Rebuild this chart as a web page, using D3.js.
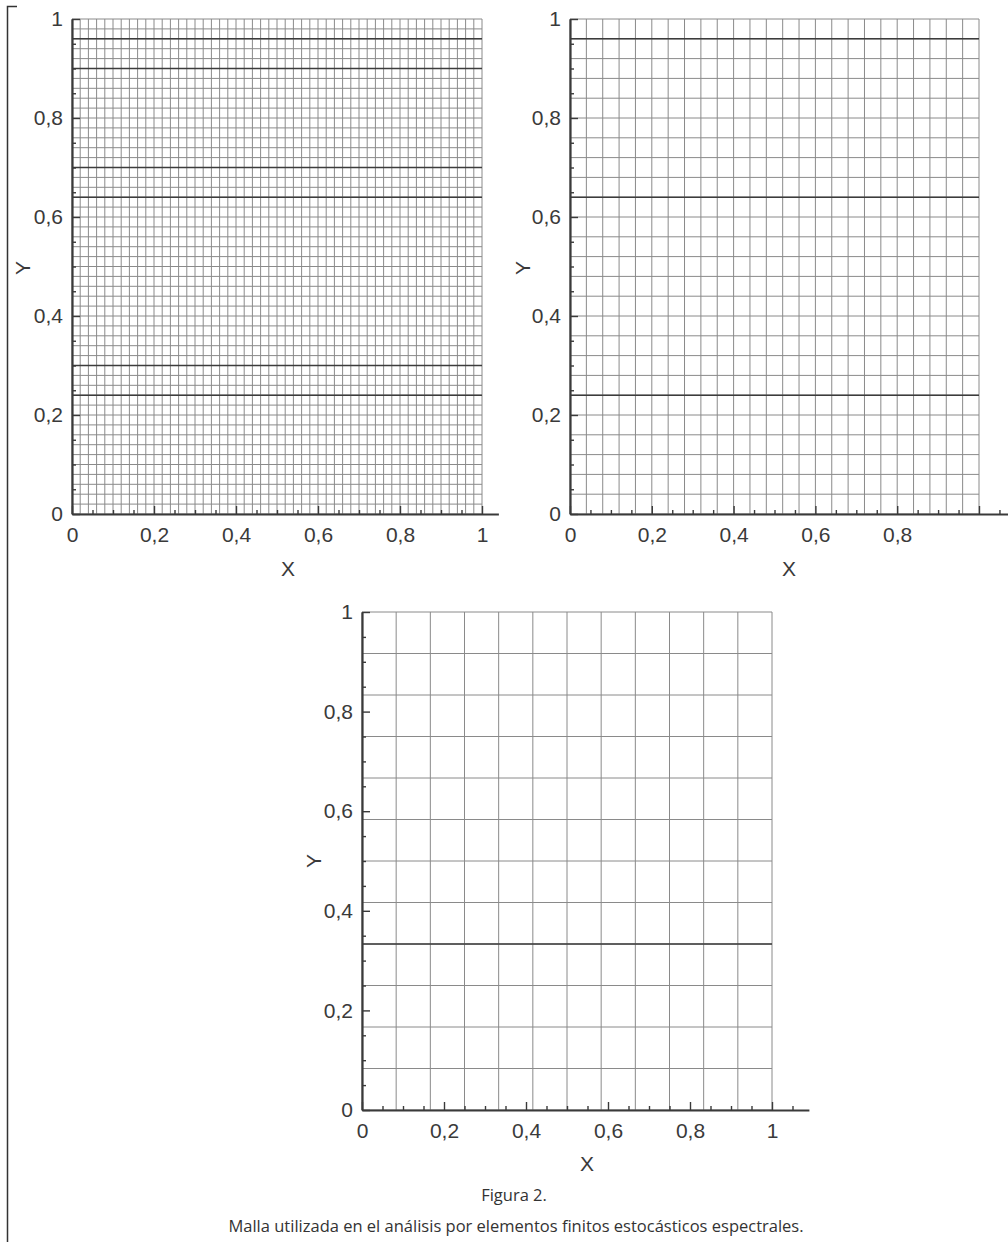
<!DOCTYPE html>
<html>
<head>
<meta charset="utf-8">
<script src="https://cdn.jsdelivr.net/npm/d3@7"></script>
<style>
  html, body { margin: 0; padding: 0; background: #fff; }
  svg { display: block; }
</style>
</head>
<body>
<div id="chart"></div>
<script>
// ---------- Data ----------
const panelNames = ["fina", "media", "gruesa"];
const meshDivisions = [50, 25, 12];               // elements per side
const heavyLinesY = [
  [0.96, 0.9, 0.7, 0.64, 0.3, 0.24],
  [0.96, 0.64, 0.24],
  [1 / 3],
];
const majorTicks = [0, 0.2, 0.4, 0.6, 0.8, 1];
const xLabelTicks = [
  [0, 0.2, 0.4, 0.6, 0.8, 1],
  [0, 0.2, 0.4, 0.6, 0.8],
  [0, 0.2, 0.4, 0.6, 0.8, 1],
];
const yLabelTicks = [0, 0.2, 0.4, 0.6, 0.8, 1];
const minorStep = 0.05;
const xAxisExtent = [1.04, 1.1, 1.09];             // x axis line runs past 1
const figureTitle = "Figura 2.";
const figureCaption = "Malla utilizada en el análisis por elementos finitos estocásticos espectrales.";

// ---------- Layout ----------
const W = 1008, H = 1242;
const boxes = [
  { x0: 72, x1: 482, yTop: 19, yBot: 514, xLab: [288, 568], yLab: [22, 268] },
  { x0: 570, x1: 979, yTop: 19, yBot: 514, xLab: [789, 568], yLab: [522, 268] },
  { x0: 362, x1: 772, yTop: 612, yBot: 1110, xLab: [587, 1163], yLab: [313, 861] },
];
const FONT = "'Liberation Sans', Arial, Helvetica, sans-serif";
const CAP_FONT = "'Open Sans', 'Noto Sans', sans-serif";
const INK = "#3a3a3a";
const fmt = d3.formatLocale({ decimal: ",", thousands: ".", grouping: [3], currency: ["", ""] }).format(".1~f");

const svg = d3.select("#chart").append("svg").attr("width", W).attr("height", H);

// left page bracket
svg.append("path")
  .attr("d", "M17,6.5H7.5V1242")
  .attr("fill", "none").attr("stroke", "#333").attr("stroke-width", 1.5);

function minorValues(ext) {
  return d3.range(0, Math.floor(ext / minorStep + 1e-6) + 1)
    .map((i) => +(i * minorStep).toFixed(2))
    .filter((v) => !majorTicks.some((m) => Math.abs(m - v) < 1e-6));
}

// ---------- Panels ----------
function renderMesh(i) {
  const b = boxes[i];
  const n = meshDivisions[i];
  const g = svg.append("g").attr("class", "panel-" + panelNames[i]);

  const x = d3.scaleLinear().domain([0, 1]).range([b.x0, b.x1]);
  const y = d3.scaleLinear().domain([0, 1]).range([b.yBot, b.yTop]);
  const nodes = d3.range(0, n + 1).map((k) => k / n);

  // mesh lines
  g.append("g").selectAll("line").data(nodes).enter().append("line")
    .attr("x1", (d) => x(d)).attr("x2", (d) => x(d))
    .attr("y1", y(0)).attr("y2", y(1))
    .attr("stroke", "#8a8a8a").attr("stroke-width", 1);
  g.append("g").selectAll("line").data(nodes).enter().append("line")
    .attr("x1", x(0)).attr("x2", x(1))
    .attr("y1", (d) => y(d)).attr("y2", (d) => y(d))
    .attr("stroke", "#8a8a8a").attr("stroke-width", 1);

  // subdomain boundaries
  g.append("g").selectAll("line").data(heavyLinesY[i]).enter().append("line")
    .attr("x1", x(0)).attr("x2", x(1))
    .attr("y1", (d) => y(d)).attr("y2", (d) => y(d))
    .attr("stroke", "#3c3c3c").attr("stroke-width", 1.6);

  // x axis
  const ext = xAxisExtent[i];
  const xa = x.copy().domain([0, ext]).range([x(0), x(ext)]);
  const xMinor = g.append("g").attr("transform", `translate(0,${y(0)})`)
    .call(d3.axisBottom(xa).tickValues(minorValues(ext)).tickSize(-4).tickSizeOuter(0).tickFormat(""));
  xMinor.select(".domain").remove();
  const xMajor = g.append("g").attr("transform", `translate(0,${y(0)})`)
    .call(d3.axisBottom(xa).tickValues(majorTicks).tickSize(-8).tickSizeOuter(0).tickPadding(13)
      .tickFormat((d) => (xLabelTicks[i].includes(d) ? fmt(d) : "")));
  xMajor.select(".domain").attr("stroke", INK).attr("stroke-width", 2.2);

  // y axis
  const yMinor = g.append("g").attr("transform", `translate(${x(0)},0)`)
    .call(d3.axisLeft(y).tickValues(minorValues(1)).tickSize(-4).tickSizeOuter(0).tickFormat(""));
  yMinor.select(".domain").remove();
  const yMajor = g.append("g").attr("transform", `translate(${x(0)},0)`)
    .call(d3.axisLeft(y).tickValues(yLabelTicks).tickSize(-8).tickSizeOuter(0).tickPadding(9).tickFormat(fmt));
  yMajor.select(".domain").attr("stroke", INK).attr("stroke-width", 2.2);

  g.selectAll(".tick line").attr("stroke", INK).attr("stroke-width", 1.4);
  g.selectAll(".tick text")
    .attr("fill", INK).attr("font-family", FONT).attr("font-size", 21);

  // axis titles
  g.append("text")
    .attr("x", b.xLab[0]).attr("y", b.xLab[1]).attr("dy", "0.36em")
    .attr("text-anchor", "middle").attr("fill", INK)
    .attr("font-family", FONT).attr("font-size", 21).text("X");
  g.append("text")
    .attr("transform", `translate(${b.yLab[0]},${b.yLab[1]}) rotate(-90)`)
    .attr("dy", "0.36em").attr("text-anchor", "middle").attr("fill", INK)
    .attr("font-family", FONT).attr("font-size", 21).text("Y");
}

meshDivisions.forEach((_, i) => renderMesh(i));

// ---------- Caption ----------
svg.append("text")
  .attr("x", 514).attr("y", 1195).attr("dy", "0.35em").attr("text-anchor", "middle")
  .attr("fill", "#333").attr("font-family", CAP_FONT).attr("font-size", 16.5)
  .text(figureTitle);
svg.append("text")
  .attr("x", 516).attr("y", 1226).attr("dy", "0.35em").attr("text-anchor", "middle")
  .attr("fill", "#333").attr("font-family", CAP_FONT).attr("font-size", 16.5)
  .text(figureCaption);
</script>
</body>
</html>
